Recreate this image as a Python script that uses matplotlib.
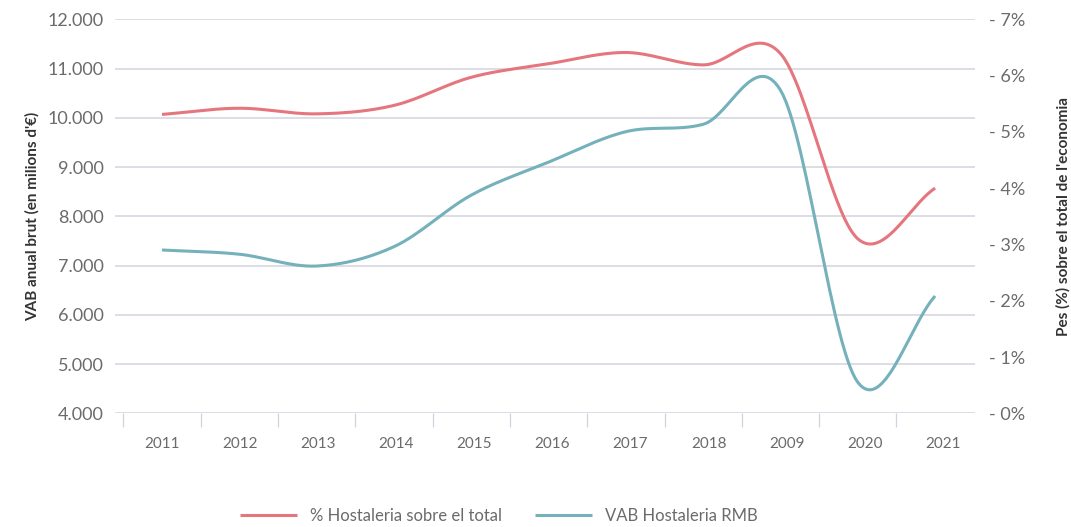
import numpy as np
import matplotlib
matplotlib.use("Agg")
import matplotlib.pyplot as plt
from matplotlib.ticker import FuncFormatter, FixedLocator

# data
years = ["2011", "2012", "2013", "2014", "2015", "2016", "2017", "2018", "2009", "2020", "2021"]
pct_hostaleria = [5.31, 5.42, 5.32, 5.47, 5.97, 6.21, 6.41, 6.19, 6.39, 3.10, 4.00]
vab_hostaleria = [7316, 7230, 6990, 7383, 8430, 9100, 9718, 9868, 10560, 4630, 6382]

RED = "#e5767e"
BLUE = "#74b1bb"
GRID = "#d3d3df"
TXT = "#6b6b6b"

plt.rcParams["font.family"] = ["Lato", "DejaVu Sans"]


def catmull(xs, ys, n=30):
    # smooth curve through the points (cardinal / catmull-rom)
    xs = np.asarray(xs, float)
    ys = np.asarray(ys, float)
    px = np.concatenate([[2 * xs[0] - xs[1]], xs, [2 * xs[-1] - xs[-2]]])
    py = np.concatenate([[2 * ys[0] - ys[1]], ys, [2 * ys[-1] - ys[-2]]])
    outx, outy = [], []
    t = np.linspace(0, 1, n, endpoint=False)
    for i in range(1, len(px) - 2):
        for arr, out in ((px, outx), (py, outy)):
            p0, p1, p2, p3 = arr[i - 1], arr[i], arr[i + 1], arr[i + 2]
            m1 = (p2 - p0) / 2
            m2 = (p3 - p1) / 2
            h00 = 2 * t**3 - 3 * t**2 + 1
            h10 = t**3 - 2 * t**2 + t
            h01 = -2 * t**3 + 3 * t**2
            h11 = t**3 - t**2
            out.extend(h00 * p1 + h10 * m1 + h01 * p2 + h11 * m2)
    outx.append(xs[-1])
    outy.append(ys[-1])
    return np.array(outx), np.array(outy)


fig = plt.figure(figsize=(10.71, 5.27), dpi=100)
ax = fig.add_axes([115 / 1071, 1 - 413.3 / 527, 860 / 1071, 394 / 527])
ax2 = ax.twinx()

x = np.arange(len(years))
bx, by = catmull(x, vab_hostaleria)
rx, ry = catmull(x, pct_hostaleria)
l2, = ax.plot(bx, by, color=BLUE, lw=2.2, solid_capstyle="butt", label="VAB Hostaleria RMB")
l1, = ax2.plot(rx, ry, color=RED, lw=2.2, solid_capstyle="butt", label="% Hostaleria sobre el total")

ax.set_ylim(4000, 12000)
ax2.set_ylim(0, 7)
ax.set_xlim(-0.608, 10.516)

ax.set_yticks(np.arange(4000, 12001, 1000))
ax.yaxis.set_major_formatter(FuncFormatter(lambda v, p: f"{int(v):,}".replace(",", ".")))
ax2.set_yticks(np.arange(0, 8, 1))
ax2.yaxis.set_major_formatter(FuncFormatter(lambda v, p: f"- {int(v)}%"))

ax.grid(axis="y", color=GRID, lw=1.1)
ax.set_axisbelow(True)
for a in (ax, ax2):
    for s in a.spines.values():
        s.set_visible(False)

ax.tick_params(axis="y", length=0, pad=8, labelsize=13, labelcolor=TXT)
ax2.tick_params(axis="y", length=0, pad=10, labelsize=13, labelcolor=TXT)

# category boundaries as ticks, names in between
ax.xaxis.set_major_locator(FixedLocator(x - 0.5))
ax.set_xticklabels([""] * len(x))
ax.tick_params(axis="x", which="major", length=10, color=GRID, width=0.9)
ax.xaxis.set_minor_locator(FixedLocator(x * 1.01))
ax.set_xticklabels(years, minor=True)
ax.tick_params(axis="x", which="minor", length=0, pad=17, labelsize=11, labelcolor=TXT)

ax.set_ylabel("VAB anual brut (en milions d'€)", fontsize=11, fontweight="bold", color="#333333", labelpad=6)
ax2.set_ylabel("Pes (%) sobre el total de l'economia", fontsize=11, fontweight="bold", color="#333333", labelpad=22)

leg = fig.legend(handles=[l1, l2], loc="lower center", bbox_to_anchor=(0.466, -0.022), ncol=2,
                 frameon=False, fontsize=12, handlelength=3.4, columnspacing=2.0, handletextpad=0.8)
for t in leg.get_texts():
    t.set_color(TXT)

fig.savefig("out.png", dpi=100)
